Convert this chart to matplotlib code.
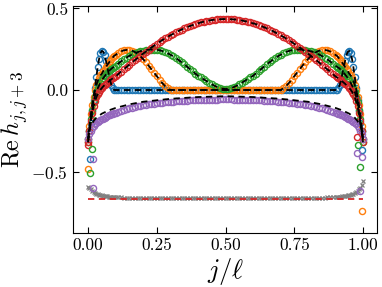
import numpy as np
import matplotlib
matplotlib.use("Agg")
import matplotlib.pyplot as plt

plt.rcParams.update({
    "font.family": "serif",
    "font.serif": ["cmr10", "DejaVu Serif"],
    "mathtext.fontset": "cm",
    "axes.formatter.use_mathtext": True,
    "axes.unicode_minus": True,
})

# x positions j/ell (fine near the edges, coarser in the bulk)
x_left = np.round(np.arange(20) * 0.005, 3)          # 0.000 .. 0.095
x_mid = np.round(0.10 + np.arange(80) * 0.01, 2)     # 0.10 .. 0.89
x_right = np.round(0.90 + np.arange(21) * 0.005, 3)  # 0.900 .. 1.000
x = np.concatenate([x_left, x_mid, x_right])

blue_left = [-0.30, -0.25, -0.20, -0.13, -0.06, 0.01, 0.08, 0.14, 0.19, 0.225,
             0.24, 0.235, 0.215, 0.18, 0.14, 0.10, 0.06, 0.03, 0.01, 0.0]
blue_mid = [0.0] * 80
blue_right = [0.0, 0.0, 0.01, 0.03, 0.06, 0.10, 0.14, 0.18, 0.215, 0.235, 0.24,
              0.225, 0.19, 0.14, 0.08, 0.01, -0.06, -0.13, -0.20, -0.25, -0.30]

orange_left = [-0.30, -0.22, -0.15, -0.09, -0.04, 0.0, 0.03, 0.055, 0.075, 0.09,
               0.10, 0.115, 0.13, 0.14, 0.155, 0.165, 0.18, 0.19, 0.20, 0.21]
orange_mid = [0.215, 0.228, 0.237, 0.243, 0.246, 0.245, 0.241, 0.233, 0.222, 0.207,
              0.190, 0.170, 0.150, 0.128, 0.106, 0.085, 0.062, 0.042, 0.024, 0.010,
              0.0, 0.0, 0.0, 0.0, 0.0, 0.0, 0.0, 0.0, 0.0, 0.0,
              0.0, 0.0, 0.0, 0.0, 0.0, 0.0, 0.0, 0.0, 0.0, 0.0,
              0.0, 0.0, 0.0, 0.0, 0.0, 0.0, 0.0, 0.0, 0.0, 0.0,
              0.0, 0.0, 0.0, 0.0, 0.0, 0.0, 0.0, 0.0, 0.0, 0.0, 0.0,
              0.010, 0.024, 0.042, 0.062, 0.085, 0.106, 0.128, 0.150, 0.170, 0.190,
              0.207, 0.222, 0.233, 0.241, 0.245, 0.246, 0.243, 0.237, 0.228]
orange_right = [0.215, 0.21, 0.20, 0.19, 0.18, 0.165, 0.155, 0.14, 0.13, 0.115, 0.10,
                0.09, 0.075, 0.055, 0.03, 0.0, -0.04, -0.09, -0.15, -0.22, -0.30]

green_left = [-0.32, -0.25, -0.18, -0.12, -0.075, -0.04, -0.012, 0.01, 0.028, 0.045,
              0.06, 0.072, 0.084, 0.095, 0.105, 0.114, 0.123, 0.131, 0.138, 0.143]
green_mid = [0.148, 0.162, 0.176, 0.188, 0.199, 0.209, 0.218, 0.226, 0.232, 0.238,
             0.242, 0.245, 0.247, 0.248, 0.248, 0.247, 0.244, 0.239, 0.233, 0.225,
             0.216, 0.206, 0.195, 0.183, 0.170, 0.157, 0.143, 0.129, 0.115, 0.101,
             0.087, 0.077, 0.066, 0.056, 0.045, 0.035, 0.026, 0.018, 0.012, 0.008,
             0.006,
             0.008, 0.012, 0.018, 0.026, 0.035, 0.045, 0.056, 0.066, 0.077, 0.087,
             0.101, 0.115, 0.129, 0.143, 0.157, 0.170, 0.183, 0.195, 0.206, 0.216,
             0.225, 0.233, 0.239, 0.244, 0.247, 0.248, 0.248, 0.247, 0.245, 0.242,
             0.238, 0.232, 0.226, 0.218, 0.209, 0.199, 0.188, 0.176, 0.162]
green_right = [0.148, 0.143, 0.138, 0.131, 0.123, 0.114, 0.105, 0.095, 0.084, 0.072,
               0.06, 0.045, 0.028, 0.01, -0.012, -0.04, -0.075, -0.12, -0.18, -0.25, -0.32]

red_left = [-0.32, -0.25, -0.19, -0.14, -0.10, -0.07, -0.045, -0.025, -0.01, 0.002,
            0.012, 0.022, 0.03, 0.038, 0.045, 0.052, 0.059, 0.066, 0.072, 0.078]
red_mid = [0.083, 0.098, 0.113, 0.127, 0.141, 0.155, 0.169, 0.183, 0.196, 0.210,
           0.223, 0.235, 0.248, 0.260, 0.272, 0.283, 0.295, 0.306, 0.316, 0.326,
           0.336, 0.345, 0.354, 0.363, 0.371, 0.378, 0.385, 0.392, 0.398, 0.404,
           0.409, 0.414, 0.419, 0.422, 0.426, 0.429, 0.431, 0.433, 0.434, 0.435,
           0.435,
           0.435, 0.434, 0.433, 0.431, 0.429, 0.426, 0.422, 0.419, 0.414, 0.409,
           0.404, 0.398, 0.392, 0.385, 0.378, 0.371, 0.363, 0.354, 0.345, 0.336,
           0.326, 0.316, 0.306, 0.295, 0.283, 0.272, 0.260, 0.248, 0.235, 0.223,
           0.210, 0.196, 0.183, 0.169, 0.155, 0.141, 0.127, 0.113, 0.098]
red_right = [0.083, 0.078, 0.072, 0.066, 0.059, 0.052, 0.045, 0.038, 0.03, 0.022, 0.012,
             0.002, -0.01, -0.025, -0.045, -0.07, -0.10, -0.14, -0.19, -0.25, -0.32]

purple_left = [-0.30, -0.27, -0.25, -0.235, -0.22, -0.21, -0.20, -0.195, -0.19, -0.185,
               -0.18, -0.175, -0.17, -0.165, -0.16, -0.156, -0.152, -0.148, -0.145, -0.142]
purple_mid = [-0.139, -0.133, -0.127, -0.122, -0.117, -0.112, -0.108, -0.104, -0.100, -0.097,
              -0.094, -0.091, -0.088, -0.085, -0.083, -0.081, -0.079, -0.077, -0.075, -0.074,
              -0.072, -0.071, -0.070, -0.068, -0.067, -0.066, -0.065, -0.064, -0.063, -0.063,
              -0.062, -0.061, -0.061, -0.060, -0.060, -0.059, -0.059, -0.059, -0.058, -0.058,
              -0.058,
              -0.058, -0.058, -0.059, -0.059, -0.059, -0.060, -0.060, -0.061, -0.061, -0.062,
              -0.063, -0.063, -0.064, -0.065, -0.066, -0.067, -0.068, -0.070, -0.071, -0.072,
              -0.074, -0.075, -0.077, -0.079, -0.081, -0.083, -0.085, -0.088, -0.091, -0.094,
              -0.097, -0.100, -0.104, -0.108, -0.112, -0.117, -0.122, -0.127, -0.133]
purple_right = [-0.139, -0.142, -0.145, -0.148, -0.152, -0.156, -0.16, -0.165, -0.17, -0.175, -0.18,
                -0.185, -0.19, -0.195, -0.20, -0.21, -0.22, -0.235, -0.25, -0.27, -0.30]

# theory curve for the purple series
purple_th_x = [0.0, 0.01, 0.02, 0.03, 0.05, 0.075, 0.1, 0.15, 0.2, 0.3, 0.4, 0.5,
               0.6, 0.7, 0.8, 0.85, 0.9, 0.925, 0.95, 0.97, 0.98, 0.99, 1.0]
purple_th_y = [-0.26, -0.22, -0.19, -0.17, -0.145, -0.125, -0.11, -0.088, -0.072, -0.054,
               -0.043, -0.038, -0.043, -0.054, -0.072, -0.088, -0.11, -0.125, -0.145,
               -0.17, -0.19, -0.22, -0.26]

gray_left = [-0.595, -0.60, -0.61, -0.618, -0.625, -0.63, -0.635, -0.638, -0.641, -0.644,
             -0.646, -0.648, -0.65, -0.651, -0.652, -0.653, -0.654, -0.655, -0.656, -0.656]
gray_mid = [-0.657, -0.658, -0.659, -0.66, -0.66, -0.661, -0.661, -0.662, -0.662, -0.662,
            -0.662, -0.662, -0.662, -0.662, -0.662, -0.662, -0.662, -0.662, -0.662, -0.662,
            -0.662, -0.662, -0.662, -0.662, -0.662, -0.662, -0.662, -0.662, -0.662, -0.662,
            -0.662, -0.662, -0.662, -0.662, -0.662, -0.662, -0.662, -0.662, -0.662, -0.662,
            -0.662, -0.662, -0.662, -0.662, -0.662, -0.662, -0.662, -0.662, -0.662, -0.662,
            -0.662, -0.662, -0.662, -0.662, -0.662, -0.662, -0.662, -0.662, -0.662, -0.662,
            -0.662, -0.662, -0.662, -0.662, -0.662, -0.662, -0.662, -0.662, -0.662, -0.662,
            -0.662, -0.662, -0.662, -0.661, -0.661, -0.66, -0.66, -0.659, -0.658, -0.657]
gray_right = [-0.656, -0.656, -0.655, -0.654, -0.653, -0.652, -0.651, -0.65, -0.648, -0.646,
              -0.644, -0.641, -0.638, -0.635, -0.63, -0.625, -0.618, -0.61, -0.60, -0.58, -0.56]

limit_value = -0.667

# strongly deviating points at the boundaries
edge_x = [0.0, 0.007, 0.013, 0.017, 0.0, 0.007, 0.017,
          0.978, 0.982, 0.995, 0.977, 0.995, 0.99, 0.99, 0.996]
edge_y = [-0.34, -0.42, -0.36, -0.42, -0.485, -0.51, -0.60,
          -0.29, -0.34, -0.37, -0.385, -0.41, -0.47, -0.62, -0.74]
edge_c = ["tab:red", "tab:blue", "tab:green", "tab:purple", "tab:orange", "tab:green", "tab:purple",
          "tab:red", "tab:green", "tab:blue", "tab:purple", "tab:purple", "tab:green", "tab:purple",
          "tab:orange"]

series = [
    ("tab:blue", blue_left + blue_mid + blue_right),
    ("tab:orange", orange_left + orange_mid + orange_right),
    ("tab:green", green_left + green_mid + green_right),
    ("tab:red", red_left + red_mid + red_right),
    ("tab:purple", purple_left + purple_mid + purple_right),
]

fig = plt.figure(figsize=(3.82, 2.87), dpi=100)
ax = fig.add_axes([0.191, 0.188, 0.796, 0.791])

for c, vals in series:
    ax.plot(x, vals, ls="none", marker="o", ms=4.4, mfc="none", mec=c, mew=1.0)
ax.plot(x, gray_left + gray_mid + gray_right, ls="none", marker="x", ms=3.5,
        color="gray", mew=0.9)
for c, ex, ey in zip(edge_c, edge_x, edge_y):
    ax.plot([ex], [ey], ls="none", marker="o", ms=4.4, mfc="none", mec=c, mew=1.0)

for c, vals in series[:4]:
    ax.plot(x, vals, ls=(0, (3.5, 2.5)), color="black", lw=1.3)
ax.plot(purple_th_x, purple_th_y, ls=(0, (3.5, 2.5)), color="black", lw=1.3)
ax.plot([0.0, 1.0], [limit_value, limit_value], ls=(0, (3.5, 2.5)), color="tab:red", lw=1.3)

ax.set_xlim(-0.055, 1.051)
ax.set_ylim(-0.877, 0.515)
ax.set_xticks([0.0, 0.25, 0.5, 0.75, 1.0])
ax.set_xticklabels(["0.00", "0.25", "0.50", "0.75", "1.00"])
ax.set_yticks([-0.5, 0.0, 0.5])
ax.set_yticklabels(["$-0.5$", "0.0", "0.5"])
ax.tick_params(direction="in", top=True, right=True, labelsize=12.5, length=4, width=0.8)
ax.set_xlabel(r"$j/\ell$", fontsize=19, labelpad=2)
ax.set_ylabel(r"Re$\,h_{j,j+3}$", fontsize=17.5)
ax.yaxis.set_label_coords(-0.14, 0.5)

fig.savefig("out.png", dpi=100)
